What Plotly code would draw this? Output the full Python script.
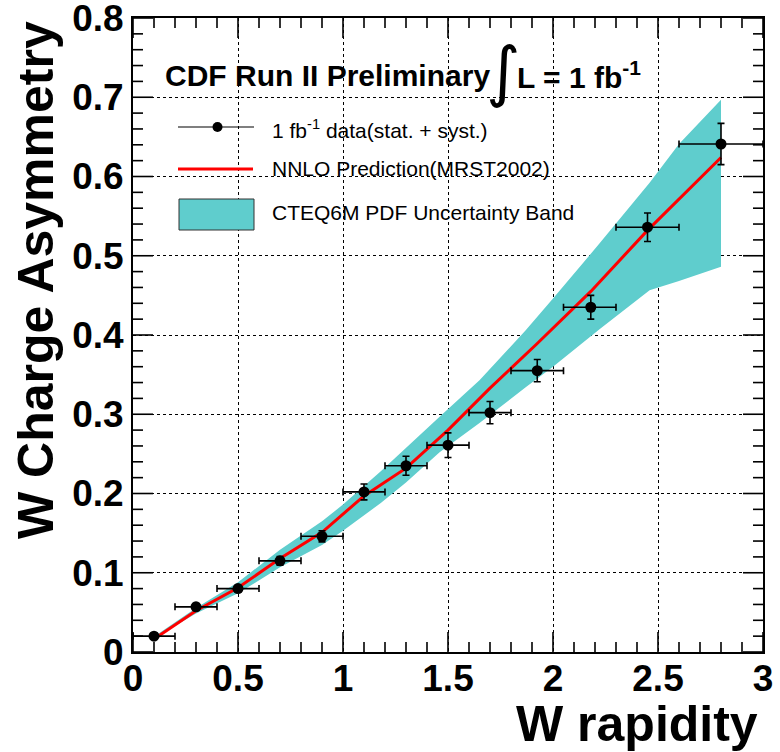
import plotly.graph_objects as go

# ---------------- data ----------------
data_x = [0.1, 0.3, 0.5, 0.7, 0.9, 1.1, 1.3, 1.5, 1.7, 1.925, 2.18, 2.45, 2.8]
data_y = [0.020, 0.057, 0.080, 0.115, 0.146, 0.202, 0.235, 0.261, 0.302, 0.355, 0.435, 0.536, 0.641]
data_yerr = [0.003, 0.004, 0.004, 0.0055, 0.007, 0.010, 0.012, 0.0155, 0.014, 0.014, 0.015, 0.018, 0.026]
bin_lo = [0.0, 0.2, 0.4, 0.6, 0.8, 1.0, 1.2, 1.4, 1.6, 1.8, 2.05, 2.3, 2.6]
bin_hi = [0.2, 0.4, 0.6, 0.8, 1.0, 1.2, 1.4, 1.6, 1.8, 2.05, 2.3, 2.6, 3.0]

nnlo_x = [0.12, 0.3, 0.5, 0.7, 0.9, 1.1, 1.3, 1.5, 1.7, 1.92, 2.18, 2.45, 2.8]
nnlo_y = [0.020, 0.052, 0.081, 0.118, 0.151, 0.197, 0.232, 0.280, 0.333, 0.388, 0.455, 0.532, 0.624]

band_x = [0.11, 0.3, 0.5, 0.7, 0.9, 1.0, 1.18, 1.3, 1.46, 1.65, 1.87, 2.0, 2.22, 2.46, 2.6, 2.8]
band_up = [0.021, 0.0555, 0.088, 0.129, 0.165, 0.186, 0.228, 0.258, 0.297, 0.343, 0.406, 0.446, 0.515, 0.592, 0.641, 0.697]
band_lo = [0.019, 0.0485, 0.074, 0.107, 0.135, 0.153, 0.188, 0.214, 0.252, 0.289, 0.334, 0.360, 0.407, 0.4565, 0.468, 0.486]

x_ticks = [0, 0.5, 1, 1.5, 2, 2.5, 3]
x_ticktext = ["0", "0.5", "1", "1.5", "2", "2.5", "3"]
y_ticks = [0, 0.1, 0.2, 0.3, 0.4, 0.5, 0.6, 0.7, 0.8]
y_ticktext = ["0", "0.1", "0.2", "0.3", "0.4", "0.5", "0.6", "0.7", "0.8"]
x_minor_step = 0.1
y_minor_step = 0.02

# ---------------- style ----------------
W, H = 780, 752
ML, MR, MT, MB = 133, 17, 18, 100
PW, PH = W - ML - MR, H - MT - MB
XR, YR = (0, 3), (0, 0.8)
FONT = "Liberation Sans"
CYAN = "#5fcdcd"
MAJ_LEN, MIN_LEN, TICK_W = 20, 10, 1.6


def px(xp):
    return (xp - ML) / PW


def py(yp):
    return (H - MB - yp) / PH


fig = go.Figure()

# uncertainty band
fig.add_trace(go.Scatter(
    x=band_x + band_x[::-1],
    y=band_up + band_lo[::-1],
    fill="toself", fillcolor=CYAN, line=dict(width=0, color=CYAN),
    mode="lines", hoverinfo="skip", showlegend=False,
))

# NNLO prediction
fig.add_trace(go.Scatter(
    x=nnlo_x, y=nnlo_y, mode="lines",
    line=dict(color="#ff0000", width=3), showlegend=False,
))

# data
fig.add_trace(go.Scatter(
    x=data_x, y=data_y, mode="markers",
    marker=dict(color="black", size=11),
    error_y=dict(type="data", array=data_yerr, color="black", thickness=1.6, width=3.5),
    error_x=dict(type="data",
                 array=[h - x for h, x in zip(bin_hi, data_x)],
                 arrayminus=[x - l for l, x in zip(bin_lo, data_x)],
                 color="black", thickness=1.6, width=3.5),
    showlegend=False,
))

# tick marks, inside on all four sides (drawn in axis units)
x_minor = [round(i * x_minor_step, 6) for i in range(1, int(round(3 / x_minor_step)))]
y_minor = [round(i * y_minor_step, 6) for i in range(1, int(round(0.8 / y_minor_step)))]
x_minor = [v for v in x_minor if all(abs(v - t) > 1e-6 for t in x_ticks)]
y_minor = [v for v in y_minor if all(abs(v - t) > 1e-6 for t in y_ticks)]
dy_per_px = (YR[1] - YR[0]) / PH
dx_per_px = (XR[1] - XR[0]) / PW
tx, ty = [], []
for vals, ln in ((x_ticks, MAJ_LEN), (x_minor, MIN_LEN)):
    for v in vals:
        tx += [v, v, None, v, v, None]
        ty += [YR[0], YR[0] + ln * dy_per_px, None, YR[1], YR[1] - ln * dy_per_px, None]
for vals, ln in ((y_ticks, MAJ_LEN), (y_minor, MIN_LEN)):
    for v in vals:
        tx += [XR[0], XR[0] + ln * dx_per_px, None, XR[1], XR[1] - ln * dx_per_px, None]
        ty += [v, v, None, v, v, None]
fig.add_trace(go.Scatter(x=tx, y=ty, mode="lines", line=dict(color="black", width=TICK_W),
                         hoverinfo="skip", showlegend=False, cliponaxis=False))

axis_common = dict(
    showline=True, linecolor="black", linewidth=2, mirror=True,
    ticks="", showgrid=True, gridcolor="black", griddash="dot", gridwidth=1,
    zeroline=False, automargin=False, ticklabeloverflow="allow",
    tickfont=dict(family=FONT, size=37, color="black", weight="bold"),
)

fig.update_xaxes(range=list(XR), tickvals=x_ticks, ticktext=x_ticktext,
                 ticklabelstandoff=-7, **axis_common)
fig.update_yaxes(range=list(YR), tickvals=y_ticks, ticktext=y_ticktext,
                 ticklabelstandoff=0, **axis_common)

shapes = []
annotations = []

# legend symbols
shapes.append(dict(type="line", xref="paper", yref="paper",
                   x0=px(178), x1=px(254), y0=py(127), y1=py(127),
                   line=dict(color="black", width=1.2)))
shapes.append(dict(type="circle", xref="paper", yref="paper",
                   x0=px(212.5), x1=px(222.5), y0=py(122), y1=py(132),
                   fillcolor="black", line=dict(color="black", width=0)))
shapes.append(dict(type="line", xref="paper", yref="paper",
                   x0=px(178), x1=px(253), y0=py(169), y1=py(169),
                   line=dict(color="#ff0000", width=3)))
shapes.append(dict(type="rect", xref="paper", yref="paper",
                   x0=px(179), x1=px(254), y0=py(230), y1=py(199),
                   fillcolor=CYAN, line=dict(color="#333333", width=1)))

leg_font = dict(family=FONT, size=21, color="black")
annotations.append(dict(xref="paper", yref="paper", x=px(270), y=py(129),
                        xanchor="left", yanchor="middle", showarrow=False,
                        text="1 fb<sup>-1</sup> data(stat. + syst.)", font=leg_font))
annotations.append(dict(xref="paper", yref="paper", x=px(270), y=py(169),
                        xanchor="left", yanchor="middle", showarrow=False,
                        text="NNLO Prediction(MRST2002)", font=leg_font))
annotations.append(dict(xref="paper", yref="paper", x=px(270), y=py(213),
                        xanchor="left", yanchor="middle", showarrow=False,
                        text="CTEQ6M PDF Uncertainty Band", font=leg_font))

# header text
title_font = dict(family=FONT, size=30, color="black", weight="bold")
annotations.append(dict(xref="paper", yref="paper", x=px(163), y=py(75),
                        xanchor="left", yanchor="middle", showarrow=False,
                        text="CDF Run II Preliminary", font=title_font))
annotations.append(dict(xref="paper", yref="paper", x=px(503), y=py(71),
                        xanchor="center", yanchor="middle", showarrow=False,
                        text="\u222b", font=dict(family="DejaVu Sans", size=66, color="black")))
annotations.append(dict(xref="paper", yref="paper", x=px(515), y=py(75),
                        xanchor="left", yanchor="middle", showarrow=False,
                        text="L = 1 fb<sup>-1</sup>", font=title_font))

# axis titles
axt_font = dict(family=FONT, size=50, color="black", weight="bold")
annotations.append(dict(xref="paper", yref="paper", x=px(760), y=py(724),
                        xanchor="right", yanchor="middle", showarrow=False,
                        text="W rapidity", font=axt_font))
annotations.append(dict(xref="paper", yref="paper", x=px(36), y=py(280),
                        xanchor="center", yanchor="middle", showarrow=False,
                        textangle=-90, text="W Charge Asymmetry", font=axt_font))

fig.update_layout(
    width=W, height=H, autosize=False,
    margin=dict(l=ML, r=MR, t=MT, b=MB, pad=0),
    paper_bgcolor="white", plot_bgcolor="white",
    shapes=shapes, annotations=annotations,
    showlegend=False,
)

fig.write_html("out.html")
